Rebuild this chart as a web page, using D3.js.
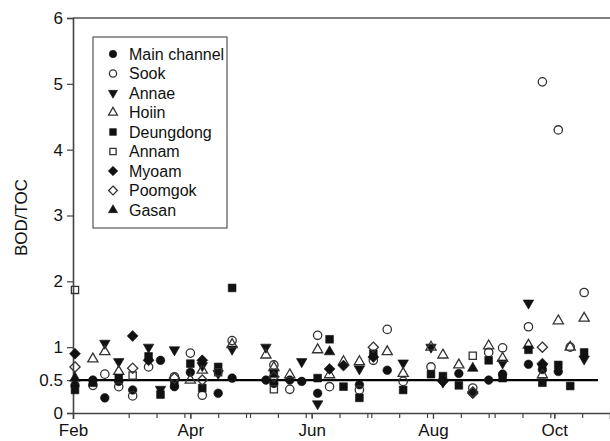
<!DOCTYPE html>
<html>
<head>
<meta charset="utf-8">
<script src="https://cdn.jsdelivr.net/npm/d3@7"></script>
<style>
  body { margin: 0; background: #fff; }
  text { font-family: "Liberation Sans", Arial, Helvetica, sans-serif; fill: #111; }
</style>
</head>
<body>
<script>
const MAIN_CHANNEL = [["2010-02-02",0.42],["2010-02-11",0.50],["2010-02-17",0.23],["2010-02-24",0.48],["2010-03-03",0.35],
  ["2010-03-17",0.80],["2010-03-24",0.40],["2010-04-01",0.62],["2010-04-15",0.30],["2010-04-22",0.53],["2010-05-09",0.50],
  ["2010-05-13",0.45],["2010-05-21",0.50],["2010-05-27",0.48],["2010-06-04",0.30],["2010-06-25",0.43],["2010-07-09",0.65],
  ["2010-08-14",0.60],["2010-08-29",0.50],["2010-09-05",0.59],["2010-09-18",0.74],["2010-09-25",0.66],["2010-10-03",0.63]]
const SOOK = [["2010-02-11",0.42],["2010-02-17",0.59],["2010-02-24",0.40],["2010-03-03",0.26],["2010-03-11",0.70],
  ["2010-03-24",0.55],["2010-04-01",0.91],["2010-04-07",0.27],["2010-04-22",1.10],["2010-05-13",0.73],["2010-05-21",0.36],
  ["2010-06-04",1.18],["2010-06-10",0.40],["2010-06-25",0.35],["2010-07-02",0.80],["2010-07-09",1.27],["2010-07-17",0.48],
  ["2010-07-31",0.70],["2010-08-21",0.38],["2010-08-29",0.92],["2010-09-05",0.99],["2010-09-18",1.31],["2010-09-25",5.03],
  ["2010-10-03",4.30],["2010-10-09",1.00],["2010-10-16",1.83]]
const ANNAE = [["2010-02-17",1.06],["2010-02-24",0.78],["2010-03-11",1.00],["2010-03-17",0.36],["2010-03-24",0.96],
  ["2010-04-07",0.72],["2010-04-15",0.60],["2010-04-22",0.97],["2010-05-09",1.00],["2010-05-27",0.78],["2010-06-04",0.14],
  ["2010-06-25",0.67],["2010-07-17",0.76],["2010-07-31",1.00],["2010-08-06",0.47],["2010-09-05",0.76],["2010-09-18",1.67],
  ["2010-09-25",0.70],["2010-10-16",0.82]]
const HOIIN = [["2010-02-11",0.82],["2010-02-17",0.93],["2010-02-24",0.63],["2010-04-01",0.50],["2010-04-07",0.65],
  ["2010-04-22",1.04],["2010-05-09",0.88],["2010-05-13",0.69],["2010-05-21",0.58],["2010-06-04",0.96],["2010-06-10",0.58],
  ["2010-06-17",0.78],["2010-06-25",0.78],["2010-07-09",0.93],["2010-07-17",0.60],["2010-07-31",1.00],["2010-08-06",0.88],
  ["2010-08-14",0.73],["2010-08-29",1.02],["2010-09-05",0.83],["2010-09-18",1.03],["2010-09-25",0.58],["2010-10-03",1.40],
  ["2010-10-09",1.00],["2010-10-16",1.44]]
const DEUNGDONG = [["2010-02-02",0.35],["2010-02-11",0.46],["2010-02-24",0.53],["2010-03-11",0.86],["2010-03-17",0.28],
  ["2010-03-24",0.45],["2010-04-01",0.75],["2010-04-07",0.38],["2010-04-15",0.70],["2010-04-22",1.90],["2010-05-13",0.60],
  ["2010-06-04",0.53],["2010-06-10",1.12],["2010-06-17",0.40],["2010-06-25",0.23],["2010-07-02",0.90],["2010-07-17",0.35],
  ["2010-07-31",0.59],["2010-08-06",0.56],["2010-08-14",0.42],["2010-08-29",0.80],["2010-09-05",0.53],["2010-09-18",0.96],
  ["2010-09-25",0.46],["2010-10-03",0.73],["2010-10-09",0.41],["2010-10-16",0.92]]
const ANNAM = [["2010-02-02",1.87],["2010-03-03",0.57],["2010-04-15",0.62],["2010-05-13",0.36],["2010-08-21",0.87]]
const MYOAM = [["2010-02-02",0.90],["2010-03-03",1.17],["2010-03-11",0.80],["2010-04-07",0.80],["2010-06-10",0.67],
  ["2010-06-17",0.72],["2010-07-02",0.85],["2010-08-06",0.48],["2010-08-21",0.30],["2010-09-25",0.75]]
const POOMGOK = [["2010-02-02",0.70],["2010-03-03",0.68],["2010-03-24",0.53],["2010-04-07",0.50],["2010-05-13",0.55],
  ["2010-07-02",1.00],["2010-08-21",0.32],["2010-09-25",1.00]]
const GASAN = [["2010-02-02",0.53],["2010-06-10",0.93],["2010-08-21",0.68]]

const REF_LINE = [["2010-02-01",0.5],["2010-10-23",0.5]]
const Y_TICKS = [0, 0.5, 1, 2, 3, 4, 5, 6]
const MONTH_TICKS = ["2010-02-01","2010-04-01","2010-06-01","2010-08-01","2010-10-01"]
const X_DOMAIN = ["2010-02-01","2010-10-29"]

const width = 610, height = 441
const margin = {left: 73, top: 18, right: 0, bottom: 28}
const parse = d3.utcParse("%Y-%m-%d")

// filled-or-open symbol styling per station
const diamond = {
  draw(ctx, size) {
    const r = Math.sqrt(size / 2)
    ctx.moveTo(0, -r); ctx.lineTo(r, 0); ctx.lineTo(0, r); ctx.lineTo(-r, 0); ctx.closePath()
  }
}
const SERIES = [
  {name: "Main channel", data: MAIN_CHANNEL, type: d3.symbolCircle, size: 58, filled: true},
  {name: "Sook", data: SOOK, type: d3.symbolCircle, size: 55, filled: false},
  {name: "Annae", data: ANNAE, type: d3.symbolTriangle, size: 48, filled: true, flip: true},
  {name: "Hoiin", data: HOIIN, type: d3.symbolTriangle, size: 45, filled: false},
  {name: "Deungdong", data: DEUNGDONG, type: d3.symbolSquare, size: 60, filled: true},
  {name: "Annam", data: ANNAM, type: d3.symbolSquare, size: 52, filled: false},
  {name: "Myoam", data: MYOAM, type: diamond, size: 60, filled: true},
  {name: "Poomgok", data: POOMGOK, type: diamond, size: 52, filled: false},
  {name: "Gasan", data: GASAN, type: d3.symbolTriangle, size: 48, filled: true}
]

const svg = d3.select("body").append("svg")
  .attr("width", width)
  .attr("height", height)

const x = d3.scaleUtc()
  .domain(X_DOMAIN.map(parse))
  .range([margin.left, width - margin.right])

const y = d3.scaleLinear()
  .domain([0, 6])
  .range([height - margin.bottom, margin.top])

// frame top edge
svg.append("line")
  .attr("x1", margin.left).attr("x2", width)
  .attr("y1", y(6)).attr("y2", y(6))
  .attr("stroke", "#555").attr("stroke-width", 1.6)

const axisStyle = g => g
  .call(g => g.select(".domain").attr("stroke", "#444").attr("stroke-width", 1.6))
  .call(g => g.selectAll(".tick line").attr("stroke", "#444").attr("stroke-width", 1.2))
  .call(g => g.selectAll(".tick text").attr("font-size", 17).attr("fill", "#111"))

svg.append("g")
  .attr("transform", `translate(${margin.left},0)`)
  .call(d3.axisLeft(y).tickValues(Y_TICKS).tickSize(6).tickPadding(4).tickFormat(d => d))
  .call(axisStyle)

// minor ticks every two weeks along the bottom
const minorTicks = d3.utcDay.every(14).range(parse("2010-02-17"), x.domain()[1])
svg.append("g")
  .attr("transform", `translate(0,${y(0)})`)
  .call(d3.axisBottom(x).tickValues(minorTicks).tickSize(5).tickFormat(""))
  .call(axisStyle)
  .call(g => g.select(".domain").remove())

svg.append("g")
  .attr("transform", `translate(0,${y(0)})`)
  .call(d3.axisBottom(x).tickValues(MONTH_TICKS.map(parse)).tickSize(6).tickPadding(5).tickFormat(d3.utcFormat("%b")))
  .call(axisStyle)

svg.append("text")
  .attr("transform", `translate(27,${(y(0) + y(6)) / 2 + 2}) rotate(-90)`)
  .attr("text-anchor", "middle")
  .attr("font-size", 17)
  .text("BOD/TOC")

// 0.5 reference line
svg.append("path")
  .datum(REF_LINE)
  .attr("fill", "none")
  .attr("stroke", "#000")
  .attr("stroke-width", 2.2)
  .attr("d", d3.line().x(d => x(parse(d[0]))).y(d => y(d[1])))

const symbolPath = (s, scale) => d3.symbol().type(s.type).size(s.size * (scale || 1))()

const styleSymbol = (sel, s) => sel
  .attr("fill", s.filled ? "#111" : "none")
  .attr("stroke", s.filled ? "#111" : "#333")
  .attr("stroke-width", s.filled ? 0.6 : 1.3)

SERIES.forEach(s => {
  svg.append("g")
    .attr("class", "series")
    .selectAll("path")
    .data(s.data)
    .join("path")
      .attr("transform", d => `translate(${x(parse(d[0]))},${y(d[1])})` + (s.flip ? " rotate(180)" : ""))
      .attr("d", symbolPath(s))
      .call(styleSymbol, s)
})

// legend
const legend = svg.append("g").attr("class", "legend")
legend.append("rect")
  .attr("x", 93).attr("y", 37)
  .attr("width", 134).attr("height", 191)
  .attr("fill", "#fff")
  .attr("stroke", "#555")
  .attr("stroke-width", 1.2)

const rows = legend.selectAll("g.row")
  .data(SERIES)
  .join("g")
    .attr("class", "row")
    .attr("transform", (d, i) => `translate(113,${54 + i * 19.5})`)

rows.append("path")
  .attr("transform", d => d.flip ? "rotate(180)" : null)
  .attr("d", d => symbolPath(d, 0.75))
  .each(function(d) { d3.select(this).call(styleSymbol, d) })

rows.append("text")
  .attr("x", 16)
  .attr("dy", "0.35em")
  .attr("font-size", 16)
  .text(d => d.name)
</script>
</body>
</html>
